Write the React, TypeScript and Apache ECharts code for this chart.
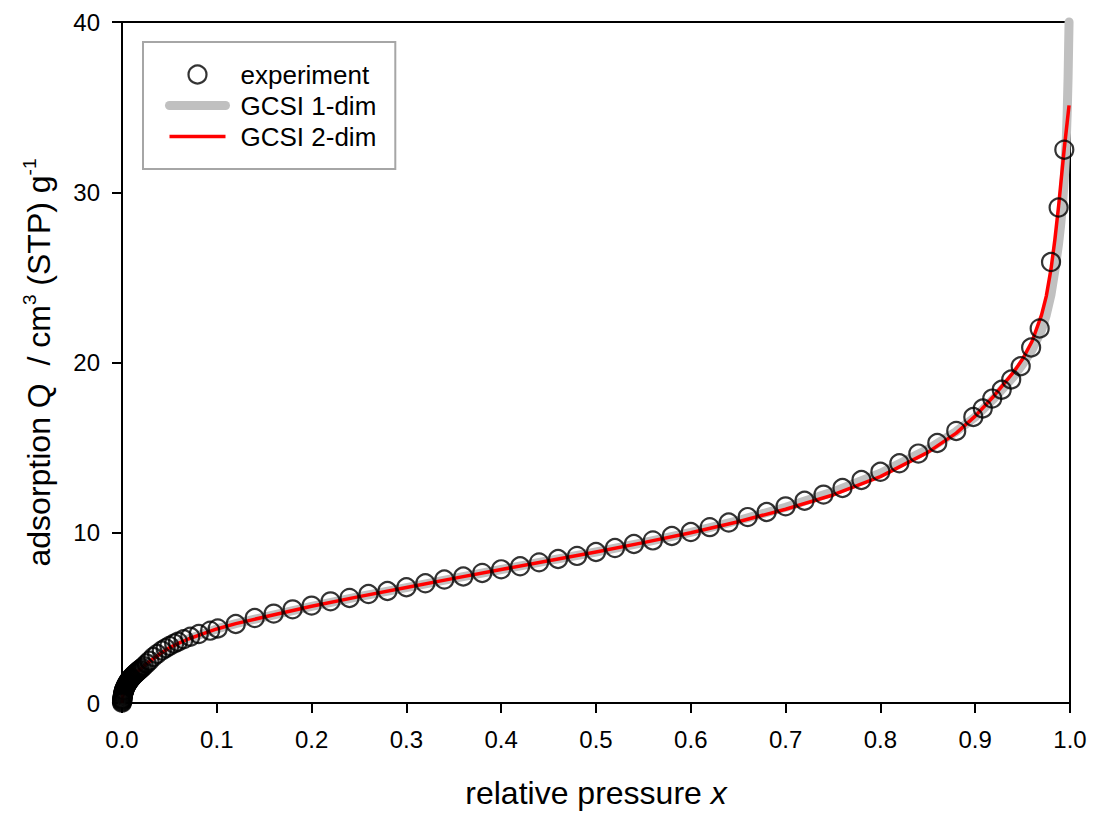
import React, { useEffect, useRef } from "react";
import * as echarts from "echarts";

// experiment (relative pressure x, adsorption Q)
const expX = [
  0, 0.0001, 0.0002, 0.0003, 0.0004, 0.0005, 0.0007, 0.0009, 0.0011, 0.0013, 0.0015, 0.0018, 0.002,
  0.0023, 0.0026, 0.003, 0.0035, 0.004, 0.0045, 0.005, 0.0055, 0.006, 0.0065, 0.007, 0.0075, 0.008,
  0.0085, 0.009, 0.0095, 0.01, 0.011, 0.012, 0.013, 0.014, 0.015, 0.016, 0.017, 0.018, 0.019, 0.021,
  0.023, 0.026, 0.029, 0.033, 0.037, 0.042, 0.046, 0.05, 0.055, 0.059, 0.065, 0.072, 0.081, 0.093,
  0.101,
  0.12, 0.14, 0.16, 0.18, 0.2, 0.22, 0.24, 0.26, 0.28, 0.3, 0.32, 0.34, 0.36, 0.38, 0.4, 0.42, 0.44,
  0.46, 0.48, 0.5, 0.52, 0.54, 0.56, 0.58, 0.6, 0.62, 0.64, 0.66, 0.68, 0.7, 0.72, 0.74, 0.76, 0.78,
  0.8, 0.82, 0.84, 0.86, 0.88, 0.898, 0.908, 0.918, 0.928, 0.938, 0.948, 0.959, 0.968, 0.98, 0.988,
  0.994,
];
const expQ = [
  0.02, 0.08, 0.14, 0.19, 0.24, 0.28, 0.36, 0.43, 0.49, 0.55, 0.6, 0.66, 0.71,
  0.76, 0.8, 0.86, 0.93, 0.99, 1.05, 1.1, 1.15, 1.2, 1.24, 1.28, 1.32, 1.36,
  1.4, 1.43, 1.47, 1.5, 1.56, 1.62, 1.67, 1.72, 1.77, 1.82, 1.87, 1.92, 1.97, 2.06,
  2.16, 2.32, 2.48, 2.7, 2.88, 3.08, 3.22, 3.35, 3.49, 3.6, 3.74, 3.89, 4.05, 4.25,
  4.38,
  4.64, 4.99, 5.25, 5.5, 5.72, 5.97, 6.17, 6.4, 6.58, 6.8, 7.03, 7.25, 7.43, 7.64, 7.85, 8.03, 8.26,
  8.46, 8.64, 8.87, 9.1, 9.34, 9.55, 9.81, 10.04, 10.33, 10.6, 10.92, 11.22, 11.55, 11.88, 12.24, 12.63, 13.1,
  13.58, 14.08, 14.65, 15.27, 15.98, 16.8, 17.3, 17.88, 18.4, 19.0, 19.78, 20.88, 22.0, 25.9, 29.1,
  32.5,
];

// GCSI 1-dim model
const gcsi1X = [
  0, 0.0005, 0.001, 0.002, 0.003, 0.005, 0.007, 0.01, 0.013, 0.016, 0.02, 0.025, 0.03, 0.04, 0.05,
  0.06, 0.07, 0.085, 0.1, 0.12, 0.15, 0.2, 0.25, 0.3, 0.35, 0.4, 0.45, 0.5, 0.55, 0.6, 0.65, 0.7,
  0.75, 0.8, 0.85, 0.88, 0.9, 0.92, 0.94, 0.95, 0.96, 0.97, 0.975, 0.98, 0.984, 0.988, 0.99, 0.992,
  0.994, 0.996, 0.997, 0.998, 0.9985, 0.999,
];
const gcsi1Q = [
  0, 0.28, 0.47, 0.71, 0.86, 1.1, 1.28, 1.5, 1.67, 1.82, 2.02, 2.27, 2.48, 2.88, 3.24,
  3.52, 3.76, 4.06, 4.35, 4.66, 5.05, 5.68, 6.25, 6.78, 7.32, 7.84, 8.36, 8.87, 9.42, 10.02, 10.72, 11.5,
  12.4, 13.5, 14.9, 15.95, 16.8, 17.9, 19.15, 19.9, 20.75, 21.9, 22.8, 24.0, 25.4, 27.0, 28.0, 29.2,
  30.8, 33.0, 34.6, 36.8, 38.4, 40.0,
];

// GCSI 2-dim model
const gcsi2X = [
  0, 0.0005, 0.001, 0.002, 0.003, 0.005, 0.007, 0.01, 0.013, 0.016, 0.02, 0.025, 0.03, 0.04, 0.05,
  0.06, 0.07, 0.085, 0.1, 0.12, 0.15, 0.2, 0.25, 0.3, 0.35, 0.4, 0.45, 0.5, 0.55, 0.6, 0.65, 0.7,
  0.75, 0.8, 0.85, 0.88, 0.9, 0.92, 0.94, 0.95, 0.96, 0.97, 0.975, 0.98, 0.984, 0.988, 0.991, 0.994,
  0.997, 0.999,
];
const gcsi2Q = [
  0, 0.28, 0.47, 0.71, 0.86, 1.1, 1.28, 1.5, 1.67, 1.82, 2.02, 2.27, 2.48, 2.88, 3.24,
  3.52, 3.76, 4.06, 4.35, 4.66, 5.05, 5.68, 6.25, 6.78, 7.32, 7.84, 8.36, 8.87, 9.42, 10.0, 10.65, 11.38,
  12.22, 13.3, 14.72, 15.85, 16.85, 18.05, 19.4, 20.2, 21.25, 22.8, 23.9, 25.5, 27.2, 29.2, 30.9, 32.6,
  34.1, 35.1,
];

const seriesNames = ["experiment", "GCSI 1-dim", "GCSI 2-dim"];

export default function App() {
  const ref = useRef<HTMLDivElement>(null);

  useEffect(() => {
    const chart = echarts.init(ref.current as HTMLDivElement, null, { renderer: "svg" });
    const font = '"Liberation Sans", Arial, sans-serif';
    const pair = (xs: number[], ys: number[]) => xs.map((x, i) => [x, ys[i]]);
    const hiddenSymbol = { color: "rgba(0,0,0,0)", borderWidth: 0, opacity: 0 };

    chart.setOption({
      animation: false,
      textStyle: { fontFamily: font, color: "#000" },
      grid: {
        left: 122,
        right: 24,
        top: 22,
        bottom: 114,
        show: true,
        borderColor: "#000",
        borderWidth: 2,
        backgroundColor: "transparent",
      },
      legend: {
        orient: "vertical",
        left: 143,
        top: 42,
        padding: [17, 19, 17, 22],
        itemGap: 0,
        itemWidth: 56,
        itemHeight: 18,
        borderColor: "#a6a6a6",
        borderWidth: 2,
        backgroundColor: "#fff",
        selectedMode: false,
        textStyle: { fontSize: 26, color: "#000", lineHeight: 31, padding: [0, 0, 0, 10], fontFamily: font },
        data: [
          {
            name: seriesNames[0],
            icon: "circle",
            itemStyle: { color: "rgba(0,0,0,0)", borderColor: "#000", borderWidth: 2.2 },
          },
          {
            name: seriesNames[1],
            lineStyle: { color: "#c0c0c0", width: 9, cap: "round" },
            itemStyle: hiddenSymbol,
          },
          {
            name: seriesNames[2],
            lineStyle: { color: "#ff0000", width: 3.5 },
            itemStyle: hiddenSymbol,
          },
        ],
      },
      xAxis: {
        type: "value",
        min: 0,
        max: 1,
        interval: 0.1,
        axisLine: { show: true, onZero: false, lineStyle: { color: "#000", width: 2 } },
        axisTick: { show: true, length: 10, lineStyle: { color: "#000", width: 2 } },
        axisLabel: {
          fontSize: 24,
          color: "#000",
          margin: 24,
          fontFamily: font,
          formatter: (v: number) => v.toFixed(1),
        },
        splitLine: { show: false },
        name: "{n|relative pressure }{i|x}",
        nameLocation: "middle",
        nameGap: 74,
        nameTextStyle: {
          rich: {
            n: { fontSize: 32, color: "#000", fontFamily: font },
            i: { fontSize: 32, color: "#000", fontStyle: "italic", fontFamily: font },
          },
        },
      },
      yAxis: {
        type: "value",
        min: 0,
        max: 40,
        interval: 10,
        axisLine: { show: true, onZero: false, lineStyle: { color: "#000", width: 2 } },
        axisTick: { show: true, length: 10, lineStyle: { color: "#000", width: 2 } },
        axisLabel: { fontSize: 24, color: "#000", margin: 22, fontFamily: font },
        splitLine: { show: false },
        name: "{t|adsorption Q  / cm}{s|3}{t| (STP) g}{s|-1}",
        nameLocation: "middle",
        nameGap: 64,
        nameTextStyle: {
          rich: {
            t: { fontSize: 32, color: "#000", lineHeight: 38, fontFamily: font },
            s: { fontSize: 19, color: "#000", lineHeight: 19, verticalAlign: "top", fontFamily: font },
          },
        },
      },
      series: [
        {
          name: seriesNames[1],
          type: "line",
          data: pair(gcsi1X, gcsi1Q),
          symbol: "none",
          clip: false,
          z: 2,
          lineStyle: { color: "#c0c0c0", width: 9, cap: "round", join: "round" },
          emphasis: { disabled: true },
        },
        {
          name: seriesNames[2],
          type: "line",
          data: pair(gcsi2X, gcsi2Q),
          symbol: "none",
          clip: false,
          z: 3,
          lineStyle: { color: "#ff0000", width: 3.5, join: "round" },
          emphasis: { disabled: true },
        },
        {
          name: seriesNames[0],
          type: "scatter",
          data: pair(expX, expQ),
          symbol: "circle",
          symbolSize: 18,
          clip: false,
          z: 5,
          itemStyle: { color: "rgba(0,0,0,0)", borderColor: "#000", borderWidth: 2.2 },
          emphasis: { disabled: true },
        },
      ],
    });

    return () => chart.dispose();
  }, []);

  return (
    <div
      ref={ref}
      style={{ position: "absolute", left: 0, top: 0, width: 1094, height: 817 }}
    />
  );
}
